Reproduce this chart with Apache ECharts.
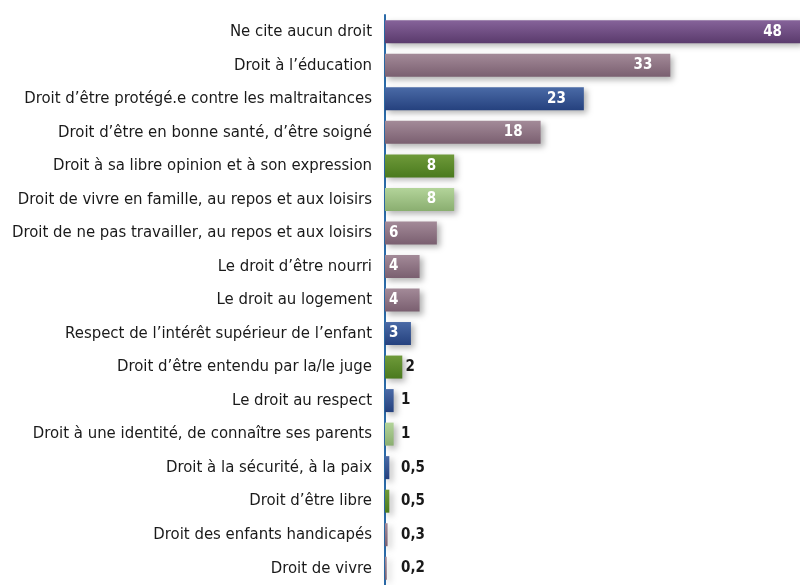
<!DOCTYPE html>
<html>
<head>
<meta charset="utf-8">
<script src="https://cdn.jsdelivr.net/npm/echarts@6/dist/echarts.min.js"></script>
<style>
  html, body { margin: 0; padding: 0; background: #fff; }
  #chart { width: 800px; height: 585px; }
</style>
</head>
<body>
<div id="chart"></div>
<script>
// données (du haut vers le bas)
var categories = [
  "Ne cite aucun droit",
  "Droit à l’éducation",
  "Droit d’être protégé.e contre les maltraitances",
  "Droit d’être en bonne santé, d’être soigné",
  "Droit à sa libre opinion et à son expression",
  "Droit de vivre en famille, au repos et aux loisirs",
  "Droit de ne pas travailler, au repos et aux loisirs",
  "Le droit d’être nourri",
  "Le droit au logement",
  "Respect de l’intérêt supérieur de l’enfant",
  "Droit d’être entendu par la/le juge",
  "Le droit au respect",
  "Droit à une identité, de connaître ses parents",
  "Droit à la sécurité, à la paix",
  "Droit d’être libre",
  "Droit des enfants handicapés",
  "Droit de vivre"
];
var values = [48, 33, 23, 18, 8, 8, 6, 4, 4, 3, 2, 1, 1, 0.5, 0.5, 0.3, 0.2];
var groups = ["aucun", "mauve", "bleu", "mauve", "vert", "vertClair", "mauve", "mauve", "mauve",
  "bleu", "vert", "bleu", "vertClair", "bleu", "vert", "mauve", "mauve"];

var palette = {
  aucun: ["#86639a", "#5a3a6c"],
  mauve: ["#a38a98", "#7a5f70"],
  bleu: ["#4a6aa6", "#25417e"],
  vert: ["#6f9a3a", "#4a7a1e"],
  vertClair: ["#b3d49a", "#8aae70"]
};

var GRID_W = 420, X_MAX = 48;

function fmt(v) { return String(v).replace(".", ","); }

var seriesData = values.map(function (v, i) {
  var c = palette[groups[i]];
  var lbl;
  if (v >= 8) {
    lbl = { position: "insideRight", distance: 18, color: "#fff" };
  } else if (v >= 3) {
    lbl = { position: "insideLeft", distance: 4, color: "#fff" };
  } else {
    // petites valeurs : alignées à gauche, juste après la barre
    var barPx = v * GRID_W / X_MAX;
    lbl = { position: "insideLeft", distance: Math.max(16, barPx + 3), color: "#1a1a1a" };
  }
  return {
    value: v,
    itemStyle: {
      color: new echarts.graphic.LinearGradient(0, 0, 0, 1, [
        { offset: 0, color: c[0] },
        { offset: 1, color: c[1] }
      ])
    },
    label: lbl
  };
});

var myChart = echarts.init(document.getElementById("chart"));
var option = {
  animation: false,
  grid: { left: 385, top: 15, width: GRID_W, height: 579 },
  xAxis: {
    type: "value",
    min: 0,
    max: X_MAX,
    show: false
  },
  yAxis: {
    type: "category",
    inverse: true,
    data: categories,
    axisLine: { show: true, lineStyle: { color: "#2a6aa8", width: 2 } },
    axisTick: { show: false },
    axisLabel: {
      color: "#1a1a1a",
      fontSize: 16.6,
      fontFamily: "'Liberation Sans Narrow', 'DejaVu Sans Condensed', sans-serif",
      margin: 13
    }
  },
  series: [{
    type: "bar",
    data: seriesData,
    barWidth: 23,
    clip: false,
    z: 1,
    itemStyle: {
      shadowBlur: 6,
      shadowColor: "rgba(0,0,0,0.3)",
      shadowOffsetX: 3,
      shadowOffsetY: 3
    },
    label: {
      show: true,
      fontSize: 15,
      fontWeight: "bold",
      fontFamily: "'Liberation Sans Narrow', 'DejaVu Sans Condensed', sans-serif",
      formatter: function (p) { return fmt(p.value); }
    }
  }]
};
myChart.setOption(option);
</script>
</body>
</html>
